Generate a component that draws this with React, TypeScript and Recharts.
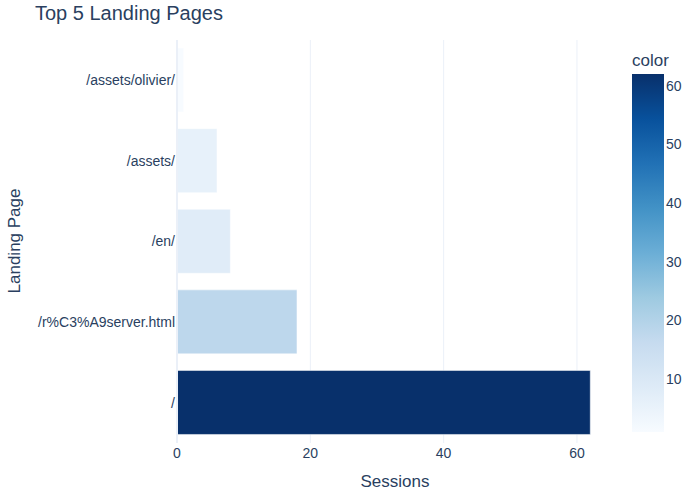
import { BarChart, Bar, XAxis, YAxis, CartesianGrid, Cell, ReferenceLine } from "recharts";

const pages = ["/assets/olivier/", "/assets/", "/en/", "/r%C3%A9server.html", "/"];
const sessions = [1, 6, 8, 18, 62];
const xTicks = [0, 20, 40, 60];
const colorTicks = [10, 20, 30, 40, 50, 60];

const FONT = "'Liberation Sans', Arial, sans-serif";
const INK = "#2a3f5f";
const GRID = "#ebf0f8";

// plotly "Blues" colorscale
const blues: [number, number[]][] = [
  [0, [247, 251, 255]],
  [0.125, [222, 235, 247]],
  [0.25, [198, 219, 239]],
  [0.375, [158, 202, 225]],
  [0.5, [107, 174, 214]],
  [0.625, [66, 146, 198]],
  [0.75, [33, 113, 181]],
  [0.875, [8, 81, 156]],
  [1, [8, 48, 107]],
];

const cmin = Math.min(...sessions);
const cmax = Math.max(...sessions);

function blueAt(t: number) {
  const tt = Math.max(0, Math.min(1, t));
  for (let i = 1; i < blues.length; i++) {
    const [t1, c1] = blues[i];
    const [t0, c0] = blues[i - 1];
    if (tt <= t1) {
      const f = (tt - t0) / (t1 - t0);
      const c = c0.map((v, k) => Math.round(v + (c1[k] - v) * f));
      return `rgb(${c[0]},${c[1]},${c[2]})`;
    }
  }
  return "rgb(8,48,107)";
}

const colorFor = (v: number) => blueAt((v - cmin) / (cmax - cmin));

const data = pages.map((page, i) => ({ page, sessions: sessions[i] }));

const X_DOMAIN: [number, number] = [0, 65.26];

// colorbar geometry
const cbX = 632;
const cbTop = 74;
const cbBottom = 432;
const cbY = (v: number) => cbBottom - ((v - cmin) / (cmax - cmin)) * (cbBottom - cbTop);

// grid lines at the tick values only (no line at the domain end)
function gridXs({ offset }: any) {
  return xTicks
    .slice(1)
    .map((t) => offset.left + ((t - X_DOMAIN[0]) / (X_DOMAIN[1] - X_DOMAIN[0])) * offset.width);
}

export default function App() {
  return (
    <div style={{ position: "absolute", left: 0, top: 0, width: 700, height: 500, background: "#fff", fontFamily: FONT }}>
      <BarChart
        width={700}
        height={500}
        data={data}
        layout="vertical"
        margin={{ top: 40, right: 88, bottom: 27, left: 0 }}
        barCategoryGap="10%"
      >
        <CartesianGrid horizontal={false} stroke={GRID} verticalCoordinatesGenerator={gridXs} />
        <XAxis
          type="number"
          dataKey="sessions"
          domain={X_DOMAIN}
          ticks={xTicks}
          height={30}
          axisLine={false}
          tickLine={false}
          tickSize={0}
          tickMargin={5}
          tick={{ fill: INK, fontSize: 14, fontFamily: FONT }}
        />
        <YAxis
          type="category"
          dataKey="page"
          width={177}
          axisLine={false}
          tickLine={false}
          tickSize={0}
          tickMargin={2}
          tick={{ fill: INK, fontSize: 14, fontFamily: FONT }}
        />
        <ReferenceLine x={0} stroke={GRID} strokeWidth={2} />
        <Bar dataKey="sessions" isAnimationActive={false} stroke="#fff" strokeWidth={0.5}>
          {data.map((d) => (
            <Cell key={d.page} fill={colorFor(d.sessions)} />
          ))}
        </Bar>
      </BarChart>

      <svg width={700} height={500} style={{ position: "absolute", left: 0, top: 0, pointerEvents: "none" }}>
        <text x={35} y={20} fill={INK} fontSize={20} fontFamily={FONT}>
          Top 5 Landing Pages
        </text>
        <text x={395} y={487} fill={INK} fontSize={17} fontFamily={FONT} textAnchor="middle">
          Sessions
        </text>
        <text
          x={20}
          y={241}
          fill={INK}
          fontSize={17}
          fontFamily={FONT}
          textAnchor="middle"
          transform="rotate(-90 20 241)"
        >
          Landing Page
        </text>
        <defs>
          <linearGradient id="cb" x1="0" y1="1" x2="0" y2="0">
            {blues.map(([t, c]) => (
              <stop key={t} offset={t} stopColor={`rgb(${c[0]},${c[1]},${c[2]})`} />
            ))}
          </linearGradient>
        </defs>
        <text x={cbX} y={66} fill={INK} fontSize={17} fontFamily={FONT}>
          color
        </text>
        <rect x={cbX} y={cbTop} width={32} height={cbBottom - cbTop} fill="url(#cb)" />
        {colorTicks.map((t) => (
          <text key={t} x={666} y={cbY(t) + 5} fill={INK} fontSize={14} fontFamily={FONT}>
            {t}
          </text>
        ))}
      </svg>
    </div>
  );
}
